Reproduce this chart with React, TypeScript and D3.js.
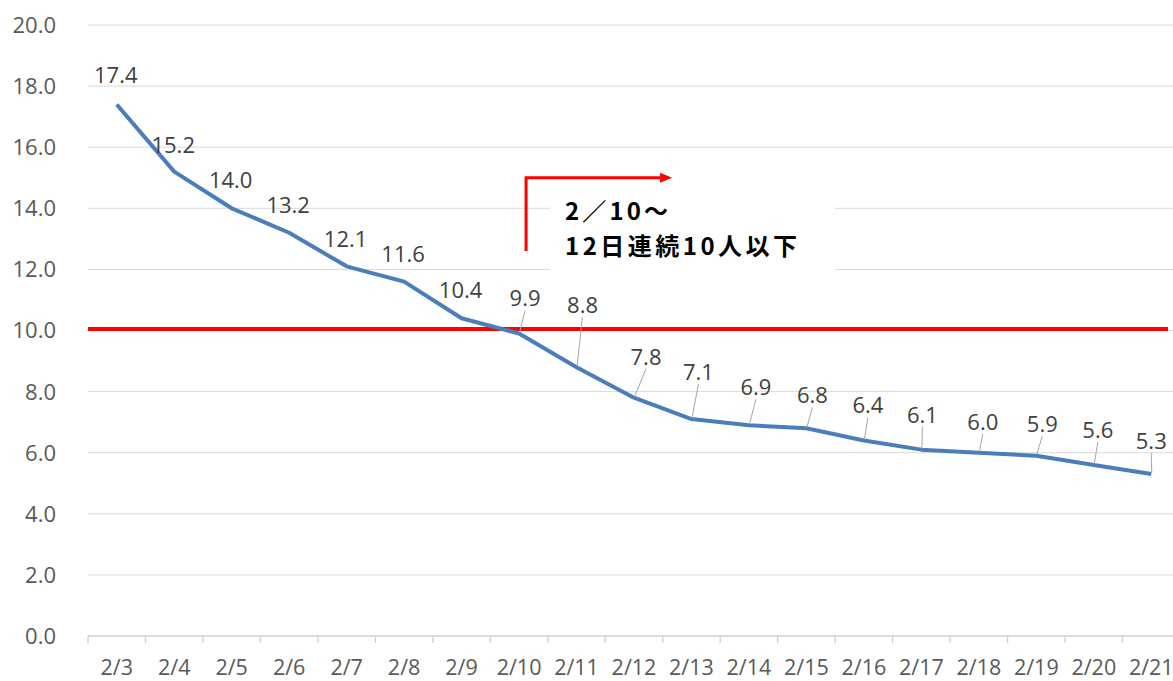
import * as d3 from "d3";

const dates = [
  "2/3", "2/4", "2/5", "2/6", "2/7", "2/8", "2/9", "2/10", "2/11", "2/12",
  "2/13", "2/14", "2/15", "2/16", "2/17", "2/18", "2/19", "2/20", "2/21",
];
const values = [
  17.4, 15.2, 14.0, 13.2, 12.1, 11.6, 10.4, 9.9, 8.8, 7.8,
  7.1, 6.9, 6.8, 6.4, 6.1, 6.0, 5.9, 5.6, 5.3,
];
const yTicks = [0, 2, 4, 6, 8, 10, 12, 14, 16, 18, 20];
const threshold = 10;
const noteLines = ["2／10～", "12日連続10人以下"];

// where each data label sits relative to its point (px); labels from 2/10 on get a leader line
const labelShift = [
  [-1, -29], [-1, -27], [-1, -28], [-1, -28], [-1, -27], [-1, -28], [-1, -28],
  [6, -35], [6, -62], [12, -41], [7, -47], [7, -38], [6, -33], [4, -35],
  [1, -35], [4, -31], [6, -32], [4, -35], [0, -33],
];

const W = 1173;
const H = 681;
const left = 88;
const right = 1180;
const top = 25;
const bottom = 636;
const font = "'Open Sans', 'Liberation Sans', sans-serif";
const jp = "'Noto Sans CJK JP', sans-serif";

const App = () => {
  const x = d3.scaleBand().domain(dates).range([left, right]);
  const y = d3.scaleLinear().domain([0, 20]).range([bottom, top]);
  const cx = (d: string) => (x(d) as number) + x.bandwidth() / 2;

  const line = d3
    .line<number>()
    .x((_, i) => cx(dates[i]))
    .y((v) => y(v));

  // bracket arrow starting just right of 2/10
  const arrowX = cx(dates[7]) + 7;
  const arrowTop = y(15.0);
  const arrowBottom = y(12.6);
  const arrowEnd = arrowX + 134;

  return (
    <svg
      width={W}
      height={H}
      style={{ position: "absolute", left: 0, top: 0, background: "#fff" }}
    >
      {yTicks.map((t) => (
        <g key={t}>
          {t > 0 && (
            <line x1={left} x2={W} y1={y(t)} y2={y(t)} stroke="#d9d9d9" strokeWidth={1} />
          )}
          <text
            x={56}
            y={y(t)}
            dy="0.36em"
            textAnchor="end"
            fontFamily={font}
            fontSize={22}
            fill="#595959"
          >
            {t.toFixed(1)}
          </text>
        </g>
      ))}

      {/* x axis */}
      <line x1={left} x2={W} y1={bottom} y2={bottom} stroke="#d0d0d0" strokeWidth={1.3} />
      {dates.map((d, i) => (
        <g key={d}>
          <line
            x1={left + i * x.bandwidth()}
            x2={left + i * x.bandwidth()}
            y1={bottom}
            y2={bottom + 7}
            stroke="#d0d0d0"
            strokeWidth={1.3}
          />
          <text
            x={cx(d)}
            y={675}
            textAnchor="middle"
            fontFamily={font}
            fontSize={21.5}
            fill="#595959"
          >
            {d}
          </text>
        </g>
      ))}

      {/* note box */}
      <rect x={550} y={190} width={285} height={86} fill="#fff" />
      <text x={565} y={220} fontFamily={jp} fontWeight={700} fontSize={24} fill="#000" textLength={103} lengthAdjust="spacing">
        {noteLines[0]}
      </text>
      <text x={565} y={255} fontFamily={jp} fontWeight={700} fontSize={24} fill="#000" textLength={232} lengthAdjust="spacing">
        {noteLines[1]}
      </text>

      {/* arrow */}
      <path
        d={`M${arrowX},${arrowBottom}V${arrowTop}H${arrowEnd}`}
        fill="none"
        stroke="#ff0000"
        strokeWidth={3}
      />
      <path
        d={`M${arrowEnd},${arrowTop - 5}L${arrowEnd + 12},${arrowTop}L${arrowEnd},${arrowTop + 5}Z`}
        fill="#ff0000"
      />

      {/* threshold */}
      <line
        x1={left}
        x2={1168}
        y1={y(threshold) - 1.5}
        y2={y(threshold) - 1.5}
        stroke="#ff0000"
        strokeWidth={4}
      />

      <path
        d={line(values) as string}
        fill="none"
        stroke="#4a7ebb"
        strokeWidth={4}
        strokeLinejoin="round"
      />

      {values.map((v, i) => {
        const px = cx(dates[i]);
        const py = y(v);
        const [dx, dy] = labelShift[i];
        const lx = px + dx;
        const ly = py + dy;
        return (
          <g key={i}>
            {i >= 7 && (
              <line
                x1={lx}
                y1={ly + 12}
                x2={px + 0.5}
                y2={py - 1}
                stroke="#a6a6a6"
                strokeWidth={1}
              />
            )}
            <text
              x={lx}
              y={ly}
              dy="0.36em"
              textAnchor="middle"
              fontFamily={font}
              fontSize={22}
              fill="#404040"
            >
              {v.toFixed(1)}
            </text>
          </g>
        );
      })}
    </svg>
  );
};

export default App;
